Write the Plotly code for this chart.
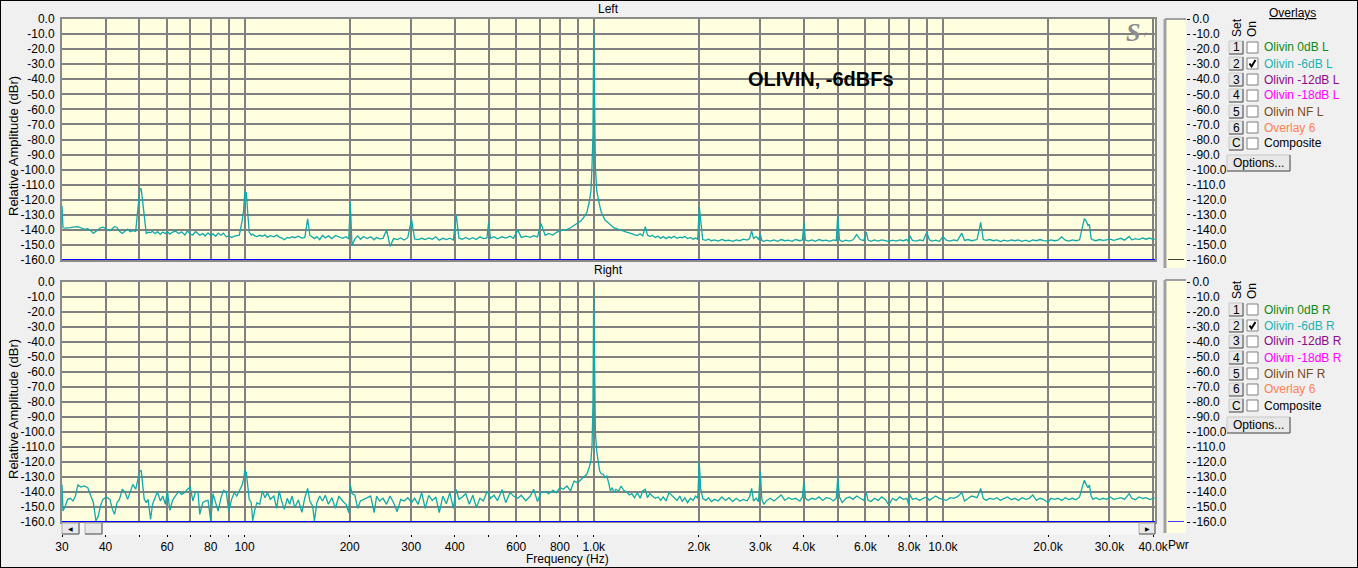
import math
import plotly.graph_objects as go

# ---------------- data ----------------
freq_low = [
    30.0, 30.2, 30.65, 31.15, 31.66, 32.26, 32.78, 33.32, 33.95, 34.75,
    35.56, 36.22, 36.9, 37.52, 38.12, 38.66, 39.29, 40.21, 41.15, 41.83,
    42.42, 43.11, 43.82, 44.64, 45.5, 46.24, 46.99, 47.87, 48.77, 49.57,
    50.15, 50.6, 51.1, 51.6, 52.3, 52.9, 53.8, 54.5, 55.4, 56.3,
    57.4, 58.3, 59.3, 60.1, 61.1, 62.1, 63.3, 64.8, 66.0, 67.5,
    68.6, 69.9, 71.1, 72.4, 73.6, 74.4, 75.9, 77.1, 78.6, 80.0,
    81.2, 82.7, 84.0, 85.6, 87.0, 88.6, 90.1, 91.8, 93.5, 95.0,
    96.6, 98.4, 99.3, 100.2, 101.2, 102.1, 103.1, 104.5, 105.5, 106.9,
    108.5, 110.5, 112.5, 114.4, 116.3, 118.5, 121.3, 123.6, 125.6, 127.7,
    130.0, 132.5, 134.6, 136.8, 139.3, 142.6, 145.9, 148.8, 151.6, 153.8,
    156.6, 158.5, 161.1, 164.1, 167.2, 170.3, 173.8, 177.9, 182.0, 186.3,
    190.8, 195.3, 198.9, 200.8, 203.1, 206.9, 210.8, 214.7, 219.2, 224.4,
    229.7, 235.1, 238.9, 243.4, 249.2, 255.1, 261.1, 267.2, 273.6, 280.0,
    286.6, 293.3, 300.7, 306.9, 314.1, 321.5, 329.1, 336.8, 344.7, 352.8,
    361.1, 369.6, 378.3, 387.2, 396.3, 403.7, 411.2, 420.0, 430.0, 440.0,
    450.6, 461.2, 472.0, 483.1, 494.5, 500.0, 506.0, 518.0, 530.0, 546.5,
    559.5, 575.6, 589.0, 606.0, 620.0, 638.5, 658.0, 673.0, 690.0, 706.0,
    726.0, 743.0, 764.0, 782.0, 800.0, 819.0, 838.0, 858.0, 878.0, 899.0,
    920.0, 937.0, 955.0, 970.0, 982.0, 989.0, 995.0, 1000.0, 1005.0, 1011.0,
    1020.0, 1030.0, 1040.0, 1052.0,
]
left_low = [
    -124.0, -138.6, -138.8, -138.8, -138.5, -138.2, -138.0, -137.8, -138.6, -139.6,
    -139.2, -140.4, -142.3, -141.0, -139.2, -138.6, -138.2, -139.4, -140.6, -139.0,
    -137.9, -138.4, -141.0, -142.4, -140.8, -139.5, -141.2, -140.5, -141.0, -122.0,
    -112.5, -113.0, -122.0, -132.5, -142.5, -141.5, -141.8, -141.0, -142.5, -141.2,
    -143.0, -141.5, -142.4, -141.2, -142.8, -141.6, -140.8, -142.4, -141.3, -143.4,
    -140.7, -142.9, -143.4, -141.1, -142.3, -143.6, -142.5, -144.1, -142.0, -143.8,
    -142.7, -144.2, -142.1, -143.5, -142.2, -144.6, -143.9, -145.1, -144.2, -143.8,
    -143.5, -134.0, -127.5, -114.5, -115.5, -128.5, -141.5, -143.4, -142.8, -144.0,
    -144.5, -143.6, -144.2, -143.3, -145.0, -143.8, -144.6, -143.5, -144.8, -145.3,
    -146.5, -145.0, -145.5, -144.5, -145.2, -144.2, -145.5, -145.0, -132.6, -143.5,
    -144.8, -145.8, -144.5, -146.5, -143.6, -145.4, -144.0, -145.8, -143.7, -144.4,
    -145.6, -144.5, -146.0, -121.5, -150.5, -146.0, -144.0, -146.2, -144.4, -145.8,
    -144.6, -146.6, -145.0, -146.0, -145.6, -140.0, -151.0, -145.8, -146.5, -145.4,
    -146.7, -145.2, -133.0, -146.0, -146.5, -145.6, -146.4, -145.3, -146.2, -144.6,
    -146.8, -145.6, -146.4, -145.5, -146.7, -130.0, -145.5, -146.2, -145.0, -146.3,
    -145.2, -146.4, -144.6, -145.8, -145.3, -135.0, -145.6, -144.5, -145.9, -144.6,
    -145.4, -144.2, -145.6, -140.0, -145.0, -144.2, -145.0, -143.8, -144.6, -135.7,
    -143.6, -142.4, -143.4, -141.6, -140.6, -140.2, -139.8, -138.6, -137.0, -135.7,
    -134.0, -131.5, -128.6, -122.0, -114.0, -97.0, -76.0, -6.0, -75.0, -98.0,
    -114.0, -120.0, -124.0, -128.5,
]
right_low = [
    -135.0, -152.7, -149.3, -144.9, -144.2, -146.0, -142.7, -135.3, -136.7, -136.0,
    -137.1, -142.0, -147.1, -159.3, -156.0, -149.3, -144.9, -143.3, -144.9, -151.6,
    -154.9, -147.1, -144.9, -138.2, -140.4, -144.9, -140.4, -134.9, -138.2, -131.6,
    -125.6, -126.0, -134.9, -144.9, -147.1, -144.9, -158.2, -148.2, -143.8, -139.8,
    -146.0, -142.7, -148.2, -138.9, -152.2, -146.0, -142.7, -139.8, -141.6, -140.4,
    -138.2, -136.7, -146.0, -139.8, -140.4, -154.9, -147.1, -146.0, -145.6, -159.3,
    -141.1, -148.2, -152.7, -143.8, -138.9, -139.8, -152.7, -144.9, -140.4, -142.7,
    -139.3, -135.3, -131.6, -125.6, -127.1, -137.1, -144.9, -147.1, -159.3, -152.2,
    -147.1, -148.2, -139.3, -143.8, -140.4, -144.9, -142.7, -150.9, -139.3, -146.0,
    -151.6, -144.2, -148.2, -142.7, -150.4, -145.3, -153.6, -143.8, -137.6, -146.0,
    -149.3, -159.3, -147.1, -142.7, -146.0, -142.2, -148.2, -143.8, -150.9, -142.7,
    -146.0, -148.2, -153.8, -135.3, -141.1, -142.0, -150.9, -146.0, -144.9, -143.8,
    -142.7, -153.8, -142.7, -146.0, -144.2, -148.2, -142.7, -147.1, -153.1, -144.9,
    -146.0, -143.8, -147.1, -144.2, -148.2, -140.4, -150.9, -142.2, -145.6, -143.3,
    -153.8, -142.7, -147.8, -140.4, -150.9, -138.2, -144.9, -143.3, -141.1, -148.2,
    -142.2, -150.4, -144.2, -146.0, -139.8, -141.0, -144.2, -142.2, -145.8, -138.4,
    -147.1, -140.4, -142.7, -144.2, -142.2, -145.8, -142.7, -138.2, -146.4, -140.4,
    -139.8, -141.1, -138.9, -140.4, -137.1, -138.2, -136.0, -139.3, -132.7, -133.8,
    -131.6, -130.4, -128.2, -123.8, -118.9, -108.2, -80.0, -5.6, -78.0, -100.0,
    -113.0, -121.6, -126.0, -128.0,
]
freq_high = [
    1065, 1077, 1090, 1103, 1116, 1130, 1143, 1157, 1179, 1198,
    1218, 1241, 1265, 1285, 1308, 1333, 1358, 1381, 1405, 1425,
    1448, 1472, 1500, 1529, 1555, 1581, 1611, 1643, 1670, 1698,
    1731, 1764, 1793, 1823, 1857, 1893, 1926, 1958, 1986, 2005,
    2024, 2052, 2093, 2132, 2172, 2218, 2273, 2328, 2384, 2441,
    2499, 2560, 2621, 2684, 2748, 2794, 2833, 2868, 2916, 2964,
    3000, 3030, 3070, 3131, 3206, 3283, 3362, 3443, 3525, 3610,
    3697, 3785, 3894, 3960, 4000, 4038, 4115, 4214, 4315, 4418,
    4524, 4633, 4744, 4857, 4950, 5000, 5055, 5150, 5274, 5400,
    5530, 5662, 5798, 5937, 6035, 6106, 6221, 6370, 6523, 6679,
    6839, 7003, 7171, 7343, 7519, 7699, 7883, 7977, 8035, 8180,
    8376, 8577, 8782, 8993, 9144, 9312, 9535, 9763, 9997, 10237,
    10482, 10733, 10990, 11330, 11530, 11805, 12088, 12530, 12830, 13050,
    13300, 13620, 13945, 14280, 14620, 14970, 15330, 15700, 16070, 16460,
    16850, 17260, 17670, 18090, 18530, 18970, 19420, 20000, 20380, 20870,
    21370, 21880, 22410, 22940, 23490, 24060, 24630, 25040, 25420, 25720,
    26030, 26270, 26580, 26900, 27420, 28070, 28750, 29440, 30140, 30860,
    31600, 32360, 33130, 34170, 34750, 35580, 36430, 37300, 38200, 39110,
    40050, 40400,
]
left_high = [
    -131.0, -133.5, -134.5, -135.7, -136.5, -137.5, -138.7, -139.0, -139.8, -140.2,
    -140.8, -141.5, -142.0, -142.8, -143.2, -143.8, -142.6, -144.0, -137.8, -143.5,
    -144.4, -143.6, -145.0, -144.2, -145.6, -144.4, -145.8, -144.6, -145.4, -144.2,
    -145.6, -144.8, -145.2, -144.4, -145.8, -145.0, -146.2, -145.4, -146.4, -124.5,
    -135.7, -146.4, -147.0, -146.2, -147.2, -146.6, -147.4, -146.4, -147.2, -146.8,
    -147.6, -146.6, -147.2, -146.2, -146.8, -145.8, -140.7, -145.6, -144.4, -146.2,
    -143.0, -147.0, -147.6, -146.8, -147.4, -146.6, -147.6, -146.4, -147.2, -146.8,
    -147.6, -146.4, -147.2, -146.6, -135.0, -146.8, -147.4, -146.6, -147.6, -146.4,
    -147.2, -146.8, -147.6, -146.6, -147.2, -130.0, -146.6, -147.8, -146.8, -147.4,
    -146.6, -143.2, -146.4, -147.2, -141.5, -146.8, -147.6, -146.6, -147.4, -146.6,
    -147.2, -147.8, -146.8, -147.4, -146.6, -147.2, -146.4, -147.8, -143.8, -147.0,
    -147.4, -146.6, -147.2, -141.5, -146.6, -147.4, -146.8, -147.6, -144.6, -146.8,
    -147.4, -146.6, -147.2, -142.2, -147.0, -146.4, -147.2, -146.4, -135.0, -146.4,
    -147.0, -146.4, -147.2, -146.6, -147.8, -146.8, -147.4, -146.6, -147.2, -146.6,
    -147.6, -146.8, -147.8, -146.6, -147.2, -146.4, -147.2, -147.4, -146.6, -147.2,
    -146.8, -144.6, -146.8, -147.4, -146.6, -147.2, -146.6, -139.3, -132.6, -134.2,
    -137.1, -136.4, -145.8, -146.6, -147.2, -146.4, -147.0, -146.6, -146.2, -147.0,
    -146.4, -145.6, -146.8, -144.4, -146.6, -145.8, -146.4, -145.4, -146.2, -145.4,
    -146.6, -146.0,
]
right_high = [
    -128.2, -130.4, -129.3, -133.8, -139.3, -137.1, -140.4, -138.2, -139.3, -136.0,
    -138.9, -139.8, -142.0, -141.1, -143.8, -140.4, -144.2, -139.3, -138.2, -143.8,
    -141.1, -142.7, -144.2, -143.3, -145.6, -143.3, -146.0, -140.4, -142.0, -144.2,
    -145.6, -142.7, -146.4, -143.8, -147.1, -144.2, -145.6, -142.7, -144.2, -119.3,
    -137.6, -144.2, -145.6, -143.8, -146.4, -144.9, -146.0, -143.3, -145.6, -143.8,
    -146.4, -144.2, -146.0, -144.9, -146.0, -143.3, -137.6, -146.0, -144.2, -146.4,
    -126.4, -144.9, -148.2, -145.6, -144.2, -146.0, -143.8, -142.0, -145.6, -143.8,
    -144.9, -144.2, -146.0, -143.3, -132.7, -144.2, -145.6, -144.2, -144.9, -143.3,
    -145.6, -143.8, -144.2, -146.0, -144.2, -130.0, -143.3, -147.1, -144.2, -143.3,
    -144.9, -142.7, -144.2, -145.6, -140.4, -145.6, -146.4, -144.2, -145.6, -143.3,
    -144.9, -148.7, -144.2, -145.6, -143.3, -144.9, -144.2, -148.2, -141.6, -144.9,
    -144.2, -145.6, -144.2, -143.3, -145.6, -144.2, -142.7, -144.2, -145.1, -145.6,
    -143.8, -144.2, -143.3, -140.4, -146.0, -144.2, -142.7, -143.8, -137.6, -144.2,
    -145.6, -144.2, -144.9, -143.8, -145.6, -144.2, -143.3, -145.1, -144.2, -145.6,
    -143.8, -144.9, -144.2, -142.0, -145.6, -144.2, -144.9, -147.1, -144.2, -144.9,
    -144.2, -145.6, -143.8, -145.1, -144.2, -145.1, -143.3, -137.1, -132.2, -134.9,
    -137.1, -135.3, -142.7, -144.9, -143.8, -145.1, -144.2, -144.9, -143.3, -144.9,
    -144.2, -143.8, -144.9, -141.1, -144.2, -145.1, -143.3, -144.2, -143.8, -145.1,
    -144.2, -143.8,
]

grid_freqs = [30, 40, 50, 60, 70, 80, 90, 100, 200, 300, 400, 500, 600, 700, 800, 900,
              1000, 2000, 3000, 4000, 5000, 6000, 7000, 8000, 9000, 10000, 20000, 30000, 40000]
grid_labels = ['30', '40', '', '60', '', '80', '', '100', '200', '300', '400', '', '600', '', '800', '',
               '1.0k', '2.0k', '3.0k', '4.0k', '', '6.0k', '', '8.0k', '', '10.0k', '20.0k', '30.0k',
               '40.0k']
db_ticks = [0, -10, -20, -30, -40, -50, -60, -70, -80, -90, -100, -110, -120, -130, -140, -150, -160]
db_labels = ['0.0', '-10.0', '-20.0', '-30.0', '-40.0', '-50.0', '-60.0', '-70.0', '-80.0', '-90.0',
             '-100.0', '-110.0', '-120.0', '-130.0', '-140.0', '-150.0', '-160.0']

overlay_keys = ['1', '2', '3', '4', '5', '6', 'C']
overlay_names_left = ['Olivin 0dB L', 'Olivin -6dB L', 'Olivin -12dB L', 'Olivin -18dB L',
                      'Olivin NF L', 'Overlay 6', 'Composite']
overlay_names_right = ['Olivin 0dB R', 'Olivin -6dB R', 'Olivin -12dB R', 'Olivin -18dB R',
                       'Olivin NF R', 'Overlay 6', 'Composite']
overlay_colors = ['#118A11', '#1DB2B2', '#8A0A8A', '#FF00FF', '#7A4A14', '#FF8050', '#000000']
overlay_on = [False, True, False, False, False, False, False]

freq = freq_low + freq_high
left_db = left_low + left_high
right_db = right_low + right_high

# ---------------- styling / layout ----------------
W, H = 1358, 568
FONT = 'Liberation Sans, Arial, sans-serif'
BG = '#F0F0F0'
PLOT_BG = '#FFFFE0'
GRID = '#808080'
TRACE = '#10A8A8'
TXT = '#000000'


def px(x):
    return x / W


def py(y):
    return 1 - y / H


X0, X1 = 62, 1155
TOP = (19, 260)
BOT = (282, 522)
xrange_log = [math.log10(30), math.log10(40500)]

fig = go.Figure()
fig.add_trace(go.Scatter(x=freq, y=left_db, xaxis='x', yaxis='y', mode='lines',
                         line=dict(color=TRACE, width=1.3), hoverinfo='skip', showlegend=False))
fig.add_trace(go.Scatter(x=freq, y=right_db, xaxis='x2', yaxis='y2', mode='lines',
                         line=dict(color=TRACE, width=1.3), hoverinfo='skip', showlegend=False))
# helper (invisible) traces so that the extra axes are drawn
for xa, ya in [('x', 'y3'), ('x2', 'y4'), ('x3', 'y2')]:
    fig.add_trace(go.Scatter(x=[1000], y=[-400], xaxis=xa, yaxis=ya, mode='markers',
                             marker=dict(opacity=0), hoverinfo='skip', showlegend=False))

xgrid = dict(type='log', range=xrange_log, domain=[px(X0), px(X1)], tickvals=grid_freqs,
             showticklabels=False, ticks='', showgrid=True, gridcolor=GRID, gridwidth=1.5,
             showline=True, linecolor='#8A8A8A', linewidth=2, mirror=True, zeroline=False,
             fixedrange=True, automargin=False)
ygrid = dict(range=[-160, 0], tickvals=db_ticks, ticktext=db_labels, ticks='outside', ticklen=3,
             tickcolor=BG, showgrid=True, gridcolor=GRID, gridwidth=1.5, showline=True,
             linecolor='#8A8A8A', linewidth=2, mirror=True, zeroline=False, fixedrange=True,
             automargin=False, tickfont=dict(family=FONT, size=12, color=TXT))
yright = dict(range=[-160, 0], tickvals=db_ticks, ticktext=db_labels, ticks='outside', ticklen=3,
              tickcolor='#000000', showgrid=False, showline=False, zeroline=False, side='right',
              anchor='free', position=px(1186), fixedrange=True, automargin=False,
              tickfont=dict(family=FONT, size=12, color=TXT))

fig.update_layout(
    width=W, height=H, autosize=False,
    margin=dict(l=0, r=0, t=0, b=0, pad=0, autoexpand=False),
    paper_bgcolor=BG, plot_bgcolor=PLOT_BG, showlegend=False,
    font=dict(family=FONT, size=12, color=TXT),
    xaxis=dict(xgrid, anchor='y'),
    xaxis2=dict(xgrid, anchor='y2'),
    xaxis3=dict(type='log', range=xrange_log, overlaying='x2', anchor='free', position=py(533),
                tickvals=grid_freqs, ticktext=grid_labels, ticks='outside', ticklen=3,
                tickcolor='#000000', tickangle=0, showgrid=False, showline=False, zeroline=False,
                fixedrange=True, automargin=False, tickfont=dict(family=FONT, size=12, color=TXT)),
    yaxis=dict(ygrid, domain=[py(TOP[1]), py(TOP[0])], anchor='x'),
    yaxis2=dict(ygrid, domain=[py(BOT[1]), py(BOT[0])], anchor='x2'),
    yaxis3=dict(yright, overlaying='y'),
    yaxis4=dict(yright, overlaying='y2'),
)

shapes = []
annotations = []


def rect(x0, y0, x1, y1, fill, line_color=None, lw=1):
    shapes.append(dict(type='rect', xref='paper', yref='paper', x0=px(x0), x1=px(x1),
                       y0=py(y1), y1=py(y0), fillcolor=fill,
                       line=dict(color=line_color or fill, width=lw if line_color else 0)))


def seg(x0, y0, x1, y1, color, lw=1):
    shapes.append(dict(type='line', xref='paper', yref='paper', x0=px(x0), x1=px(x1),
                       y0=py(y0), y1=py(y1), line=dict(color=color, width=lw)))


def text(x, y, s, size=12, color=TXT, xanchor='center', angle=0, family=FONT):
    annotations.append(dict(x=px(x), y=py(y), xref='paper', yref='paper', text=s, showarrow=False,
                            xanchor=xanchor, yanchor='middle', textangle=angle,
                            font=dict(family=family, size=size, color=color)))


# blue floor lines at -160
for yr in ['y', 'y2']:
    shapes.append(dict(type='line', xref='x domain' if yr == 'y' else 'x2 domain', yref=yr,
                       x0=0, x1=1, y0=-160, y1=-160, line=dict(color='#0000FF', width=2)))

# Pwr bars
for (b0, b1), yr, col in [((19, 268), 'y', '#000000'), ((280, 533), 'y2', '#0000FF')]:
    rect(1165, b0, 1186, b1, PLOT_BG)
    seg(1165, b0, 1165, b1, '#A0A0A0', 3)
    seg(1165, b0, 1186, b0, '#A0A0A0', 2)
    shapes.append(dict(type='line', xref='paper', yref=yr, x0=px(1168), x1=px(1184),
                       y0=-160, y1=-160, line=dict(color=col, width=1.5)))

# scrollbar under the right-channel plot
rect(X0, 523, X1, 535, '#F7F7F7')
for bx0, bx1 in [(62, 79), (85, 102), (1139, 1155)]:
    rect(bx0, 523, bx1, 534, '#E8E8E8', '#B0B0B0', 1)
    seg(bx0, 534, bx1, 534, '#606060', 1)
    seg(bx1, 523, bx1, 534, '#606060', 1)
text(70.5, 528.5, '◀', size=6)
text(1147, 528.5, '▶', size=6)

# overlay legends
for off, names in [(0, overlay_names_left), (262, overlay_names_right)]:
    text(1237, 28 + off, 'Set', angle=-90)
    text(1252, 29 + off, 'On', angle=-90)
    for i, key in enumerate(overlay_keys):
        yc = 47.5 + 16 * i + off
        rect(1229, yc - 6.5, 1243, yc + 6.5, '#E8E8E8', '#C8C8C8', 1)
        seg(1229, yc + 6.5, 1243, yc + 6.5, '#505050', 1)
        seg(1243, yc - 6.5, 1243, yc + 6.5, '#505050', 1)
        text(1236, yc, key, size=12)
        rect(1247, yc - 5.5, 1258, yc + 5.5, '#FFFFFF', '#808080', 1)
        if overlay_on[i]:
            shapes.append(dict(type='path', xref='paper', yref='paper',
                               path=f'M {px(1249.5)} {py(yc)} L {px(1251.5)} {py(yc + 3)} L {px(1255.5)} {py(yc - 3.5)}',
                               line=dict(color='#000000', width=2)))
        text(1262, yc, names[i], size=12, color=overlay_colors[i], xanchor='left')
    ob = 163 + off
    rect(1227, ob - 8, 1290, ob + 8, '#E8E8E8', '#C8C8C8', 1)
    seg(1227, ob + 8, 1290, ob + 8, '#505050', 1)
    seg(1290, ob - 8, 1290, ob + 8, '#505050', 1)
    text(1258.5, ob, 'Options...', size=12)

text(1292, 13, '<u>Overlays</u>', size=12)

# titles and labels
text(608, 9, 'Left')
text(608, 270, 'Right')
text(13, 146, 'Relative Amplitude (dBr)', size=13, angle=-90)
text(13, 409, 'Relative Amplitude (dBr)', size=13, angle=-90)
text(567, 559, 'Frequency (Hz)')
text(1178, 545, 'Pwr')
text(821, 79, '<b>OLIVIN, -6dBFs</b>', size=20)
text(1133, 32, '<i><b>S</b></i>', size=26, color='#8C8C8C', family='Liberation Serif, serif')
text(1145, 35, '/', size=8, color='#8C8C8C')

# outer frame
shapes.append(dict(type='rect', xref='paper', yref='paper', x0=0, x1=1, y0=0, y1=1,
                   line=dict(color='#000000', width=2), fillcolor='rgba(0,0,0,0)'))

fig.update_layout(shapes=shapes, annotations=annotations)
fig.write_html(
    'out.html',
    config={'displayModeBar': False, 'responsive': False},
    post_script=("document.documentElement.style.margin='0';document.body.style.margin='0';"
                 "document.documentElement.style.overflow='hidden';document.body.style.overflow='hidden';"),
)
